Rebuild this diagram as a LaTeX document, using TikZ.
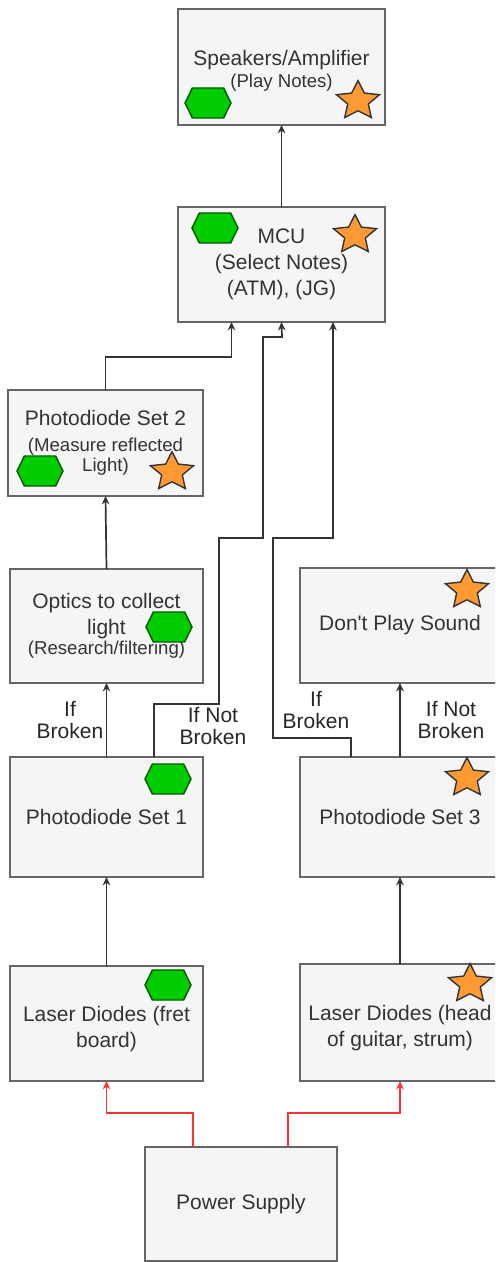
\documentclass[tikz,border=0pt]{standalone}
\usepackage{fontspec}
\setmainfont{Liberation Sans}
\usetikzlibrary{arrows.meta,calc}
\definecolor{boxfill}{HTML}{F5F5F5}
\definecolor{boxline}{HTML}{666666}
\definecolor{txt}{HTML}{333333}
\definecolor{hexfill}{HTML}{00CC00}
\definecolor{hexline}{HTML}{005700}
\definecolor{starfill}{HTML}{FF9933}
\definecolor{starline}{HTML}{333333}
\definecolor{wire}{HTML}{333333}
\definecolor{pwr}{HTML}{FF3333}
\newcommand\mainsz{\fontsize{10.5}{13}\selectfont}
\newcommand\subsz{\fontsize{9.3}{10}\selectfont}
\newcommand\lblsz{\fontsize{10.5}{11}\selectfont}
\newcommand\topstrut[1]{\rule{0pt}{#1}}
\begin{document}
\begin{tikzpicture}[x=0.5pt,y=-0.5pt,
  box/.style={draw=boxline,fill=boxfill,line width=0.75pt,rectangle,inner sep=0pt,outer sep=0pt,align=center,text=txt,font=\mainsz},
  conn/.style={draw=wire,line width=0.85pt,-{Stealth[length=4.2pt,width=3.8pt]}},
  pconn/.style={draw=pwr,line width=0.85pt,-{Stealth[length=4.2pt,width=3.8pt]}},
  lbl/.style={align=center,font=\lblsz,text=black!85,inner sep=0pt},
  pics/hexa/.style={code={\draw[draw=hexline,fill=hexfill,line width=0.7pt,x=11.5pt,y=7.5pt] (-1,0)--(-0.68,1)--(0.68,1)--(1,0)--(0.68,-1)--(-0.68,-1)--cycle;}},
  pics/ostar/.style={code={\draw[draw=starline,fill=starfill,line width=0.7pt,x=11.3pt,y=10.2pt,yshift=-1pt] (90:1)--(126:0.48)--(162:1)--(198:0.48)--(234:1)--(270:0.48)--(306:1)--(342:0.48)--(18:1)--(54:0.48)--cycle;}}
]
\useasboundingbox (0,0) rectangle (495,1262);
\clip (0,0) rectangle (495,1262);
\fill[white] (0,0) rectangle (495,1262);

% boxes
\node[box,minimum width=103.5pt,minimum height=58pt] (spk) at (281.5,67) {\topstrut{11.7pt}Speakers/Amplifier\\[-2pt]{\subsz (Play Notes)}};
\node[box,minimum width=103.5pt,minimum height=57.5pt] (mcu) at (281.5,264.5) {MCU\\(Select Notes)\\(ATM), (JG)};
\node[box,minimum width=97.5pt,minimum height=53pt] (pd2) at (105.5,443) {Photodiode Set 2\\{\subsz (Measure reflected}\\[-3pt]{\subsz Light)}};
\node[box,minimum width=96.5pt,minimum height=57pt] (opt) at (106.5,626) {Optics to collect\\light\\[-3pt]{\subsz (Research/filtering)}};
\node[box,minimum width=96.5pt,minimum height=60pt] (pd1) at (106.5,817) {Photodiode Set 1};
\node[box,minimum width=96.5pt,minimum height=57.5pt] (las1) at (106.5,1023.5) {\topstrut{12.7pt}Laser Diodes (fret\\board)};
\node[box,minimum width=100pt,minimum height=57.5pt] (dps) at (400,625.5) {Don\textquotesingle t Play Sound};
\node[box,minimum width=100pt,minimum height=60pt] (pd3) at (400,817) {Photodiode Set 3};
\node[box,minimum width=100pt,minimum height=58.5pt] (las2) at (400,1022.5) {\topstrut{12.7pt}Laser Diodes (head\\of guitar, strum)};
\node[box,minimum width=96pt,minimum height=57pt] (ps) at (241,1204) {Power Supply};

% icons
\pic at (208,103) {hexa};
\pic at (215,228) {hexa};
\pic at (40,471) {hexa};
\pic at (169,627) {hexa};
\pic at (168,779) {hexa};
\pic at (168,985) {hexa};
\pic at (358,99) {ostar};
\pic at (355,233) {ostar};
\pic at (172,470) {ostar};
\pic at (467,588) {ostar};
\pic at (467,776) {ostar};
\pic at (470,982) {ostar};

% labels
\node[lbl] (l1) at (70,720) {If\\Broken};
\node[lbl] (l2) at (213,726) {If Not\\Broken};
\node[lbl] (l3) at (316,710) {If\\Broken};
\node[lbl] (l4) at (451,720) {If Not\\Broken};

% connectors
\draw[conn] (mcu.north) -- (spk.south);
\draw[conn] (pd2.north) |- ($(mcu.south)+(-50,35)$) -- ($(mcu.south)+(-50,0)$);
\draw[conn] ($(pd1.north)+(47.5,0)$) |- (219,704) |- (263,538) |- (282,337) -- (mcu.south);
\draw[conn] ($(pd3.north)+(-49,0)$) |- (273,738) |- (333,538) -- ($(mcu.south)+(51.5,0)$);
\draw[conn] (opt.north) -- (pd2.south);
\draw[conn] (pd1.north) -- (opt.south);
\draw[conn] (pd3.north) -- (dps.south);
\draw[conn] (las1.north) -- (pd1.south);
\draw[conn] (las2.north) -- (pd3.south);
\draw[pconn] ($(ps.north)+(-48,0)$) |- ($(las1.south)+(0,32)$) -- (las1.south);
\draw[pconn] ($(ps.north)+(47,0)$) |- ($(las2.south)+(0,32)$) -- (las2.south);
\end{tikzpicture}
\end{document}
